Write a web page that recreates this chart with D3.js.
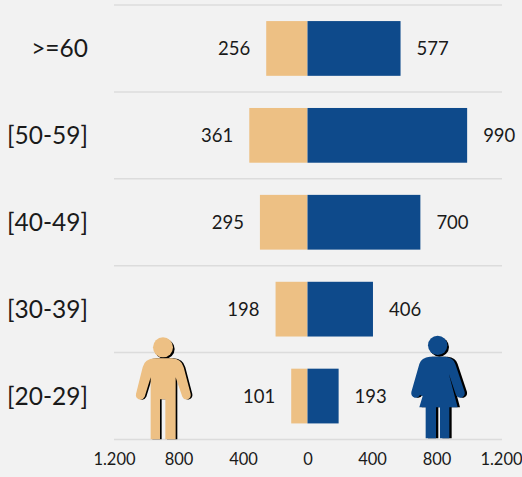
<!DOCTYPE html>
<html>
<head>
<meta charset="utf-8">
<script src="https://cdn.jsdelivr.net/npm/d3@7"></script>
<style>
  html, body { margin: 0; padding: 0; background: #f2f2f2; }
  svg { display: block; }
  text { font-family: Lato, "Open Sans", sans-serif; fill: #1a1a1a; }
</style>
</head>
<body>
<svg width="522" height="477"></svg>
<script>
var ageGroups = [">=60", "[50-59]", "[40-49]", "[30-39]", "[20-29]"];
var men = [256, 361, 295, 198, 101];
var women = [577, 990, 700, 406, 193];
var tickValues = [-1200, -800, -400, 0, 400, 800, 1200];

var peach = "#edc084", blue = "#0e4a8b";

var svg = d3.select("svg");

var xScale = d3.scaleLinear().domain([-1200, 1200]).range([114, 501]);
var yScale = d3.scaleBand().domain(ageGroups).range([5, 439.5]).paddingInner(0.37).paddingOuter(0.185);
var step = yScale.step();

// horizontal separators, one above each band plus the baseline
var sepY = ageGroups.map(function(d) { return yScale(d) - (step - yScale.bandwidth()) / 2; });
sepY.push(439.5);
svg.selectAll(".sep")
   .data(sepY)
   .enter().append("line")
   .attr("class", "sep")
   .attr("x1", 114)
   .attr("x2", 502)
   .attr("y1", function(d) { return d; })
   .attr("y2", function(d) { return d; })
   .attr("stroke", "#dcdcdc")
   .attr("stroke-width", 1.5);

// bars
svg.selectAll(".men")
   .data(men)
   .enter().append("rect")
   .attr("class", "men")
   .attr("x", function(d) { return xScale(-d); })
   .attr("y", function(d, i) { return yScale(ageGroups[i]); })
   .attr("width", function(d) { return xScale(0) - xScale(-d); })
   .attr("height", yScale.bandwidth())
   .attr("fill", peach);

svg.selectAll(".women")
   .data(women)
   .enter().append("rect")
   .attr("class", "women")
   .attr("x", xScale(0))
   .attr("y", function(d, i) { return yScale(ageGroups[i]); })
   .attr("width", function(d) { return xScale(d) - xScale(0); })
   .attr("height", yScale.bandwidth())
   .attr("fill", blue);

// value labels
svg.selectAll(".menLabel")
   .data(men)
   .enter().append("text")
   .attr("class", "menLabel")
   .attr("x", function(d) { return xScale(-d) - 16; })
   .attr("y", function(d, i) { return yScale(ageGroups[i]) + yScale.bandwidth() / 2 + 6.5; })
   .attr("text-anchor", "end")
   .attr("font-size", 18.5)
   .text(function(d) { return d; });

svg.selectAll(".womenLabel")
   .data(women)
   .enter().append("text")
   .attr("class", "womenLabel")
   .attr("x", function(d) { return xScale(d) + 16; })
   .attr("y", function(d, i) { return yScale(ageGroups[i]) + yScale.bandwidth() / 2 + 6.5; })
   .attr("font-size", 18.5)
   .text(function(d) { return d; });

// category labels
svg.selectAll(".age")
   .data(ageGroups)
   .enter().append("text")
   .attr("class", "age")
   .attr("x", 88)
   .attr("y", function(d) { return yScale(d) + yScale.bandwidth() / 2 + 9; })
   .attr("text-anchor", "end")
   .attr("font-size", 24.5)
   .text(function(d) { return d; });

// bottom axis, labels only
var axis = d3.axisBottom(xScale)
   .tickValues(tickValues)
   .tickSize(0)
   .tickPadding(0)
   .tickFormat(function(d) { return Math.abs(d) >= 1000 ? d3.format(",")(Math.abs(d)).replace(",", ".") : Math.abs(d); });

var axisG = svg.append("g")
   .attr("transform", "translate(0,453)")
   .call(axis);
axisG.select(".domain").remove();
axisG.selectAll("text")
   .attr("font-size", 16.5)
   .style("font-family", "Lato")
   .attr("fill", "#1a1a1a");

// pictograms, drawn at 3x then scaled down
var manBody = "M92 358 L92 172 L74 230 Q68 242 56 238 Q46 233 48 222 L68 142 Q74 116 104 115 L156 115 Q184 116 191 142 L212 222 Q214 234 203 238 Q192 241 187 230 L167 172 L167 358 L136 358 L136 238 L120 238 L120 358 Z";
var womanBody = "M60 225 Q54 236 44 233 Q32 229 34 216 L58 132 Q64 112 90 110 L136 110 Q160 112 166 132 L194 216 Q196 229 184 233 Q174 236 168 225 L146 160 L164 228 L173 262 L148 262 L148 355 L120 355 L120 262 L108 262 L108 355 L77 355 L77 262 L58 262 L68 228 Z";

function figure(x, y, color, body, cx, cy, r, shadowDx) {
  var g = svg.append("g").attr("transform", "translate(" + x + "," + y + ") scale(0.3333)");
  var shadow = g.append("g").attr("fill", "#000");
  shadow.append("circle").attr("cx", cx + 5).attr("cy", cy + 5).attr("r", r);
  shadow.append("path").attr("d", body).attr("transform", "translate(" + shadowDx + ",0)");
  var front = g.append("g").attr("fill", color);
  front.append("circle").attr("cx", cx).attr("cy", cy).attr("r", r);
  front.append("path").attr("d", body);
}

figure(120, 320, peach, manBody, 129, 82, 30, 5);
figure(400, 320, blue, womanBody, 113, 76, 29, 7);
</script>
</body>
</html>
